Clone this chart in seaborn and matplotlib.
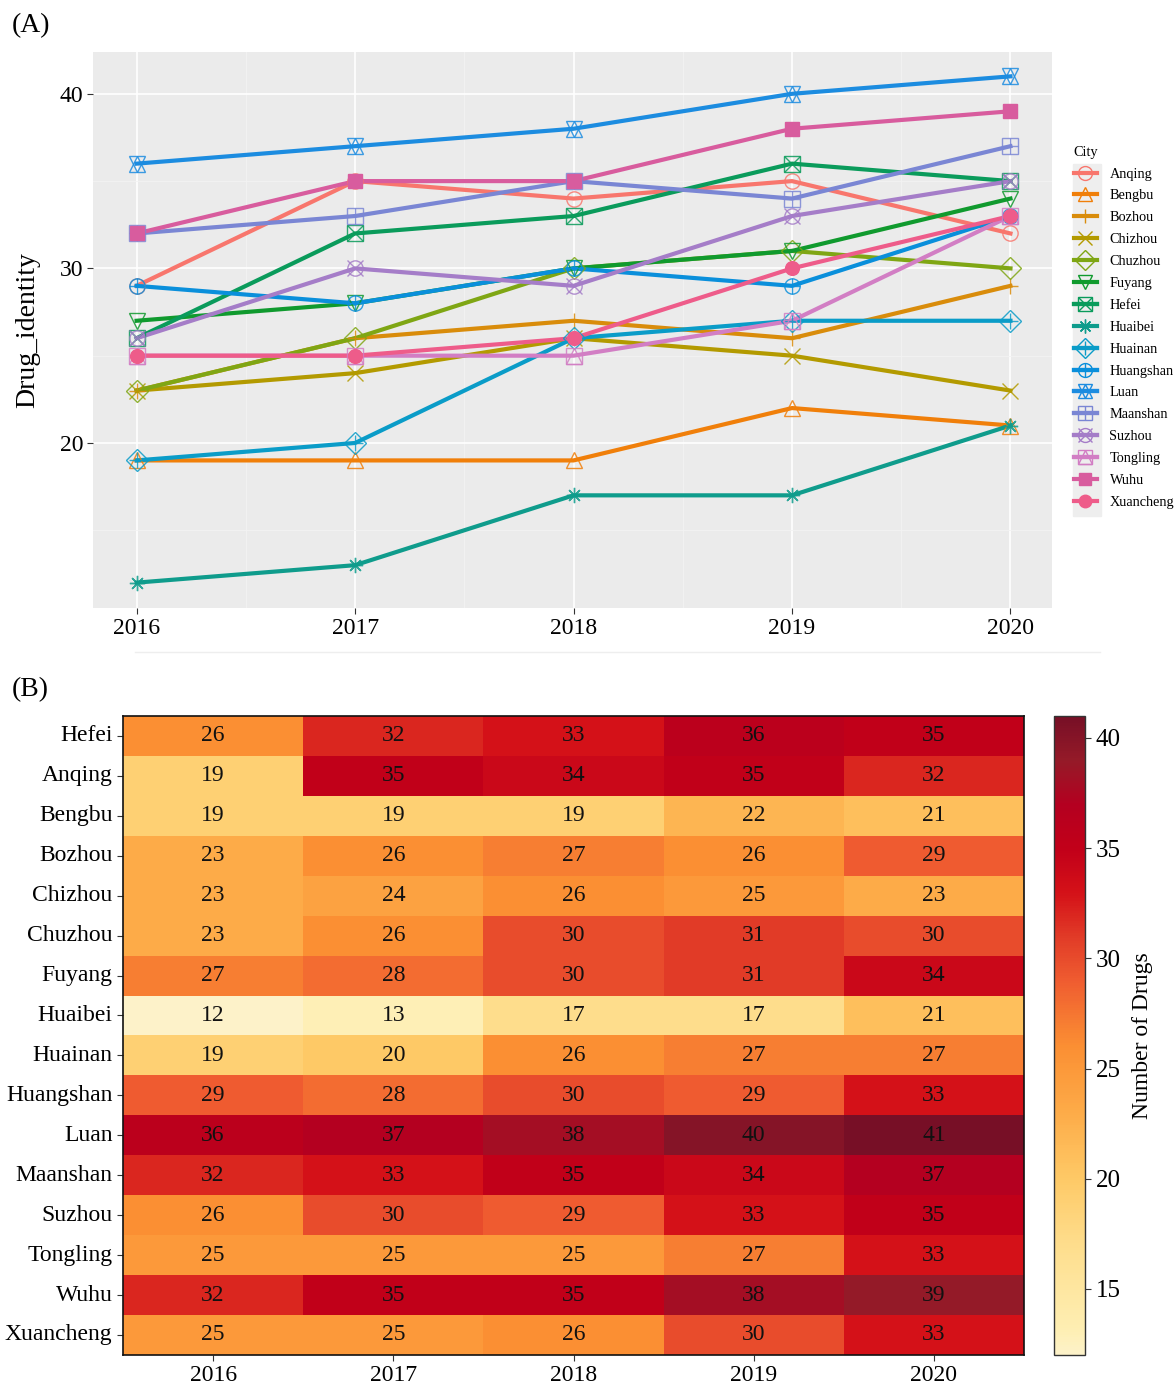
import numpy as np
import pandas as pd
import matplotlib
matplotlib.use('Agg')
import matplotlib.pyplot as plt
import seaborn as sns
from matplotlib.lines import Line2D
from matplotlib.patches import Rectangle
from matplotlib.colors import LinearSegmentedColormap, to_rgba
from matplotlib.legend_handler import HandlerTuple

#%% Data
years = [2016, 2017, 2018, 2019, 2020]

# heatmap row order (Hefei on top)
heat_cities = ['Hefei', 'Anqing', 'Bengbu', 'Bozhou', 'Chizhou', 'Chuzhou', 'Fuyang',
               'Huaibei', 'Huainan', 'Huangshan', 'Luan', 'Maanshan', 'Suzhou',
               'Tongling', 'Wuhu', 'Xuancheng']
heat_values = [
    [26, 32, 33, 36, 35],
    [19, 35, 34, 35, 32],
    [19, 19, 19, 22, 21],
    [23, 26, 27, 26, 29],
    [23, 24, 26, 25, 23],
    [23, 26, 30, 31, 30],
    [27, 28, 30, 31, 34],
    [12, 13, 17, 17, 21],
    [19, 20, 26, 27, 27],
    [29, 28, 30, 29, 33],
    [36, 37, 38, 40, 41],
    [32, 33, 35, 34, 37],
    [26, 30, 29, 33, 35],
    [25, 25, 25, 27, 33],
    [32, 35, 35, 38, 39],
    [25, 25, 26, 30, 33],
]

# line panel (A) uses alphabetical order; Anqing 2016 is drawn at 29 there
line_cities = sorted(heat_cities)
anqing_line = [29, 35, 34, 35, 32]

city_colors = ['#F8766D', '#F07F0A', '#D98C0B', '#B39A00', '#7FA614', '#109A2E',
               '#0A9B5B', '#0F9C8C', '#0A9CC8', '#0A8FDB', '#1C8CE0', '#7A86D4',
               '#A57DC8', '#D27EC4', '#D85C9E', '#EE5C8A']
# ggplot-like shapes 1..16 built from overlaid matplotlib markers
city_markers = [['o'], ['^'], ['+'], ['x'], ['D'], ['v'], ['s', 'x'], [(8, 2, 0)],
                ['D', '+'], ['o', '+'], ['^', 'v'], ['s', '+'], ['o', 'x'], ['s', '^'],
                ['s_f'], ['o_f']]

heat_ticks = [15, 20, 25, 30, 35, 40]
cmap_stops = [(12, '#FDF2C9'), (13, '#FEEFB4'), (17, '#FEDD8C'), (20, '#FEC966'),
              (23, '#FDAB48'), (26, '#FB8F33'), (29, '#EF5C30'), (31, '#E13B27'),
              (33, '#D41118'), (35, '#C20019'), (37, '#B40020'), (39, '#951A28'),
              (41, '#770F26')]

#%% Frames
heat_df = pd.DataFrame(heat_values, index=heat_cities, columns=years)
line_vals = {c: v for c, v in zip(heat_cities, heat_values)}
line_vals['Anqing'] = anqing_line
df_long = pd.DataFrame([(c, y, v) for c in line_cities for y, v in zip(years, line_vals[c])],
                       columns=['City', 'year', 'Drug_identity'])
palette = dict(zip(line_cities, city_colors))
shapes = dict(zip(line_cities, city_markers))

plt.rcParams['font.family'] = ['Liberation Serif', 'DejaVu Serif']

fig = plt.figure(figsize=(11.75, 13.88), dpi=100)

#%% (A) line plot
ax = fig.add_axes([0.0791, 0.5620, 0.8162, 0.4006])
ax.set_facecolor('#EBEBEB')
sns.lineplot(data=df_long, x='year', y='Drug_identity', hue='City', palette=palette,
             linewidth=3, legend=False, ax=ax, zorder=3)

def draw_markers(ax, x, y, comps, color, size=11):
    edge = to_rgba(color, 0.85)
    for m in comps:
        if m in ('s_f', 'o_f'):
            ax.plot(x, y, ls='none', marker=m[0], ms=size * 0.9, color=color,
                    markeredgecolor=color, zorder=4)
        else:
            ax.plot(x, y, ls='none', marker=m, ms=size, markerfacecolor='none',
                    markeredgecolor=edge, markeredgewidth=1.0, zorder=4)

for c in line_cities:
    sub = df_long[df_long['City'] == c]
    draw_markers(ax, sub['year'], sub['Drug_identity'], shapes[c], palette[c])

ax.set_xlim(2015.8, 2020.19)
ax.set_ylim(10.55, 42.4)
ax.set_xticks(years)
ax.set_yticks([20, 30, 40])
ax.set_xticks([2016.5, 2017.5, 2018.5, 2019.5], minor=True)
ax.set_yticks([15, 25, 35], minor=True)
ax.grid(which='major', color='white', linewidth=1.2, zorder=0)
ax.grid(which='minor', color='#F3F3F3', linewidth=0.6, zorder=0)
ax.set_axisbelow(True)
for s in ax.spines.values():
    s.set_visible(False)
ax.tick_params(axis='both', which='major', labelsize=17, length=4, color='#333333', pad=3)
ax.tick_params(axis='both', which='minor', length=0)
ax.set_xlabel('')
ax.set_ylabel('Drug_identity', fontsize=20, labelpad=14)

handles = []
for c in line_cities:
    parts = []
    for m in shapes[c]:
        if m in ('s_f', 'o_f'):
            parts.append(Line2D([0], [0], color=palette[c], lw=3, marker=m[0], ms=9,
                                markeredgecolor=palette[c]))
        else:
            parts.append(Line2D([0], [0], color=palette[c], lw=3, marker=m, ms=10,
                                markerfacecolor='none', markeredgewidth=1.0))
    handles.append(tuple(parts) if len(parts) > 1 else parts[0])

# grey key column behind the legend handles (ggplot legend keys)
fig.add_artist(Rectangle((1073 / 1175, 1 - 516 / 1388), 28 / 1175, 352 / 1388,
                         transform=fig.transFigure, color='#EEEEEE', zorder=0))
leg = fig.legend(handles, line_cities, title='City', loc='upper left',
                 bbox_to_anchor=(1068 / 1175, 1 - 140 / 1388), frameon=False,
                 fontsize=10.3, title_fontsize=10.3, labelspacing=0.62, handlelength=1.6,
                 handletextpad=0.9, borderaxespad=0, alignment='left',
                 handler_map={tuple: HandlerTuple(ndivide=1, pad=0)})

fig.add_artist(Line2D([135 / 1175, 1100 / 1175], [1 - 652 / 1388, 1 - 652 / 1388],
                      color='#EEEEEE', lw=1))

#%% (B) heatmap
axh = fig.add_axes([0.1047, 0.0238, 0.7668, 0.4604])
cax = fig.add_axes([0.8970, 0.0238, 0.0264, 0.4604])
cmap = LinearSegmentedColormap.from_list(
    'drugs', [((v - 12) / (41 - 12), col) for v, col in cmap_stops])
sns.heatmap(heat_df, annot=True, fmt='d', cmap=cmap, vmin=12, vmax=41, ax=axh, cbar_ax=cax,
            annot_kws={'fontsize': 17, 'color': '#111111'},
            cbar_kws={'ticks': heat_ticks})
for s in axh.spines.values():
    s.set_visible(True)
    s.set_color('#111111')
    s.set_linewidth(1.2)
axh.tick_params(axis='both', labelsize=17, length=4, color='#333333')
axh.tick_params(axis='y', rotation=0)
axh.set_xlabel('')
axh.set_ylabel('')

cb = axh.collections[0].colorbar
cb.outline.set_edgecolor('#333333')
cb.outline.set_linewidth(1)
cax.tick_params(labelsize=18, length=4, color='#333333')
cb.set_label('Number of Drugs', fontsize=17, labelpad=8)

fig.text(12 / 1175, 1 - 26 / 1388, '(A)', fontsize=20, va='center', ha='left')
fig.text(12 / 1175, 1 - 690 / 1388, '(B)', fontsize=20, va='center', ha='left')

fig.savefig('out.png', dpi=100)
